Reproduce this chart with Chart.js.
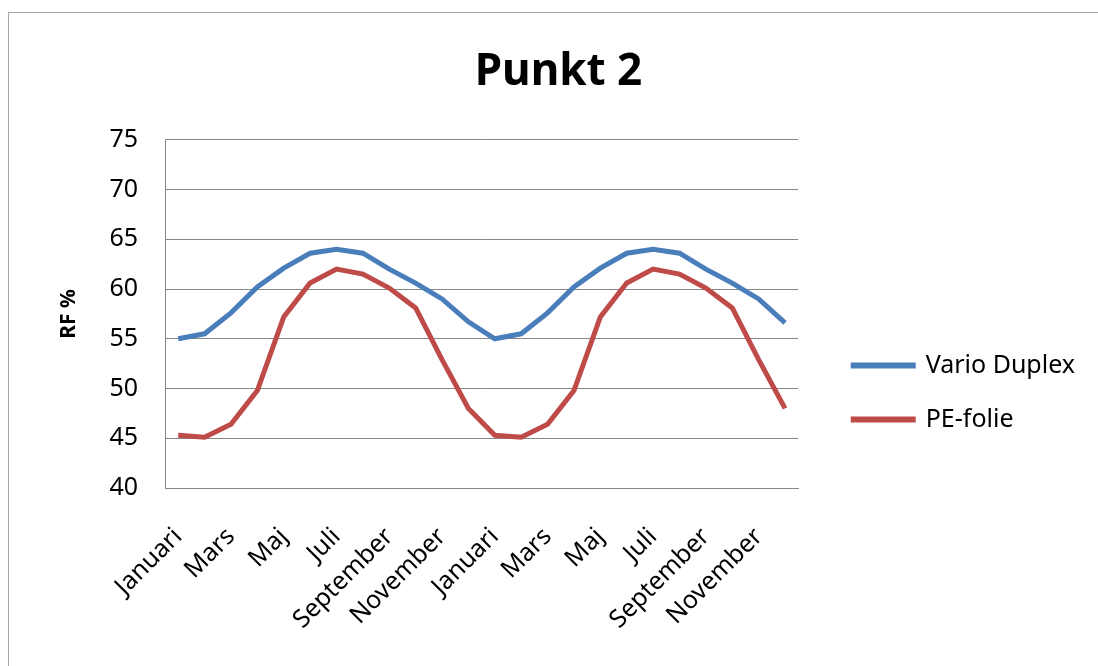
<!DOCTYPE html>
<html>
<head>
<meta charset="utf-8">
<script src="https://cdn.jsdelivr.net/npm/chart.js@4.4.0/dist/chart.umd.min.js"></script>
<style>
  body { margin: 0; background: #fff; }
  #wrap { position: relative; width: 1098px; height: 666px; overflow: hidden; }
  #frame { position: absolute; left: 8px; top: 12px; width: 1200px; height: 800px; border: 1px solid #a6a6a6; }
  canvas { position: absolute; left: 0; top: 0; }
</style>
</head>
<body>
<div id="wrap">
  <div id="frame"></div>
  <canvas id="chart" width="1098" height="666"></canvas>
</div>
<script>
// months for two years, only every other label is shown on the axis
const months = ['Januari', 'Februari', 'Mars', 'April', 'Maj', 'Juni', 'Juli', 'Augusti', 'September', 'Oktober', 'November', 'December',
                'Januari', 'Februari', 'Mars', 'April', 'Maj', 'Juni', 'Juli', 'Augusti', 'September', 'Oktober', 'November', 'December'];

// RF %
const varioDuplex = [55.0, 55.5, 57.6, 60.2, 62.1, 63.6, 64.0, 63.6, 62.0, 60.6, 59.0, 56.7,
                     55.0, 55.5, 57.6, 60.2, 62.1, 63.6, 64.0, 63.6, 62.0, 60.6, 59.0, 56.6];
const peFolie = [45.3, 45.1, 46.4, 49.8, 57.2, 60.6, 62.0, 61.5, 60.1, 58.1, 52.9, 48.0,
                 45.3, 45.1, 46.4, 49.8, 57.2, 60.6, 62.0, 61.5, 60.1, 58.1, 52.9, 48.0];

const yTicks = [40, 45, 50, 55, 60, 65, 70, 75];

const fontName = "'Noto Sans', 'DejaVu Sans', sans-serif";
const padLeft = 32;
const padRight = 13;

var ctx = document.getElementById('chart').getContext('2d');

new Chart(ctx, {
  type: 'line',
  data: {
    labels: months,
    datasets: [{
        label: 'Vario Duplex',
        data: varioDuplex,
        borderColor: '#4A7EBB',
        backgroundColor: '#4A7EBB',
        borderWidth: 5,
        pointRadius: 0,
        tension: 0
      }, {
        label: 'PE-folie',
        data: peFolie,
        borderColor: '#BE4B48',
        backgroundColor: '#BE4B48',
        borderWidth: 5,
        pointRadius: 0,
        tension: 0
      }
    ]
  },
  options: {
    responsive: false,
    animation: false,
    layout: {
      padding: { left: padLeft, top: 0, right: padRight, bottom: 0 }
    },
    plugins: {
      title: {
        display: true,
        text: 'Punkt 2',
        color: '#000',
        font: { family: fontName, size: 44, weight: 'bold' },
        padding: { top: 46, bottom: 41 }
      },
      legend: {
        position: 'right',
        align: 'start',
        maxWidth: 290,
        // empty legend title only pushes the items down
        title: {
          display: true,
          text: '',
          font: { family: fontName, size: 10 },
          padding: { top: 312, bottom: 0 }
        },
        labels: {
          color: '#000',
          font: { family: fontName, size: 25 },
          boxWidth: 60,
          boxHeight: 1,
          padding: 29
        }
      },
      tooltip: { enabled: false }
    },
    scales: {
      x: {
        offset: true,
        grid: { display: false },
        border: { display: true, color: '#868686', width: 1 },
        ticks: {
          autoSkip: false,
          maxRotation: 45,
          minRotation: 45,
          padding: 26,
          color: '#000',
          font: { family: fontName, size: 25 },
          callback: function(value, index) {
            return index % 2 === 0 ? months[index] : '';
          }
        },
        afterFit: function(scale) {
          scale.height = 666 - 488;
        }
      },
      y: {
        min: 40,
        max: 75,
        afterBuildTicks: function(scale) {
          scale.ticks = yTicks.map(v => ({ value: v }));
        },
        grid: { color: '#868686', lineWidth: 1, drawTicks: false },
        border: { display: true, color: '#868686', width: 1 },
        ticks: {
          padding: 27,
          color: '#000',
          font: { family: fontName, size: 25 }
        },
        title: {
          display: true,
          text: 'RF %',
          color: '#000',
          font: { family: fontName, size: 21, weight: 'bold' },
          padding: { top: 24, bottom: 4 }
        },
        afterFit: function(scale) {
          scale.width = 165 - padLeft;
        }
      },
      y2: {
        position: 'right',
        display: true,
        grid: { display: false },
        border: { display: false },
        ticks: { display: false },
        afterFit: function(scale) {
          scale.width = 26;
        }
      }
    }
  }
});
</script>
</body>
</html>
